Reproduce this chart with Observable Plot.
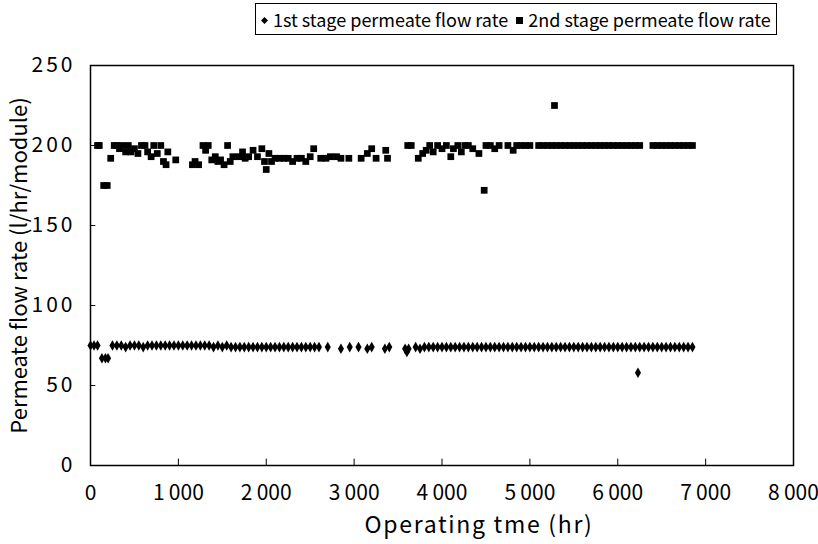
<!DOCTYPE html>
<html><head><meta charset="utf-8">
<script src="https://cdn.jsdelivr.net/npm/d3@7"></script>
<script src="https://cdn.jsdelivr.net/npm/@observablehq/plot@0.6"></script>
<style>
body{margin:0;background:#fff;font-family:"Noto Sans CJK JP","DejaVu Sans",sans-serif;}
#legend{height:40px;position:relative;}
#legend .box{position:absolute;left:255px;top:3px;border:1px solid #000;padding:0 5px;height:30px;line-height:30px;font-size:18px;white-space:nowrap;color:#000;}
#legend .sym{display:inline-block;vertical-align:middle;margin:0 5px 3px 0;}
</style></head>
<body><div id="legend"></div><div id="chart"></div>
<script>
// Series names
const seriesNames = ["1st stage permeate flow rate", "2nd stage permeate flow rate"];

// 1st stage (diamonds): operating time (hr) and flow (l/hr/module)
const stage1Time = [0,40,80,130,170,200,250,300,350,400,450,500,550,600,650,700,750,800,850,900,950,1000,1050,1100,1150,1200,1250,1300,1350,1400,1450,1500,1550,1600,1650,1700,1750,1800,1850,1900,1950,2000,2050,2100,2150,2200,2250,2300,2350,2400,2450,2500,2550,2600,2700,2850,2950,3050,3150,3200,3350,3400,3580,3600,3620,3700,3750,3800,3850,3900,3950,4000,4050,4100,4150,4200,4250,4300,4350,4400,4450,4500,4550,4600,4650,4700,4750,4800,4850,4900,4950,5000,5050,5100,5150,5200,5250,5300,5350,5400,5450,5500,5550,5600,5650,5700,5750,5800,5850,5900,5950,6000,6050,6100,6150,6200,6230,6250,6300,6350,6400,6450,6500,6550,6600,6650,6700,6750,6800,6850];
const stage1Flow = [75,75,75,67,67,67,75,75,75,74,75,75,75,74,75,75,75,75,75,75,75,75,75,75,75,75,75,75,75,74,75,74,75,74,74,74,74,74,74,74,74,74,74,74,74,74,74,74,74,74,74,74,74,74,74,73,74,74,73,74,73,74,73,71,73,74,73,74,74,74,74,74,74,74,74,74,74,74,74,74,74,74,74,74,74,74,74,74,74,74,74,74,74,74,74,74,74,74,74,74,74,74,74,74,74,74,74,74,74,74,74,74,74,74,74,74,58,74,74,74,74,74,74,74,74,74,74,74,74,74];

// 2nd stage (squares)
const stage2Time = [80,100,150,190,230,270,300,330,360,400,430,460,500,540,580,620,650,690,720,760,800,830,860,880,970,1160,1190,1230,1280,1310,1340,1380,1420,1450,1480,1520,1560,1590,1620,1690,1730,1760,1800,1850,1900,1950,1980,2000,2030,2060,2100,2150,2200,2250,2300,2350,2400,2450,2500,2540,2620,2680,2730,2800,2850,2940,3080,3150,3200,3250,3360,3380,3610,3650,3730,3780,3820,3860,3900,3950,4000,4050,4100,4130,4180,4220,4260,4300,4350,4420,4480,4500,4550,4600,4650,4750,4810,4850,4900,4950,5000,5100,5150,5200,5250,5280,5300,5350,5400,5450,5500,5550,5600,5650,5700,5750,5800,5850,5900,5950,6000,6050,6100,6150,6200,6250,6400,6450,6500,6550,6600,6650,6700,6750,6800,6850];
const stage2Flow = [200,200,175,175,192,200,200,198,200,196,200,196,198,195,200,200,196,193,200,195,200,190,188,196,191,188,190,188,200,197,200,191,193,190,191,188,200,190,193,193,196,192,193,197,193,198,190,185,195,190,192,192,192,192,190,192,192,190,193,198,192,192,193,193,192,192,192,195,198,192,197,192,200,200,192,195,197,200,196,200,198,200,193,198,200,196,200,200,198,195,172,200,200,198,200,200,197,200,200,200,200,200,200,200,200,225,200,200,200,200,200,200,200,200,200,200,200,200,200,200,200,200,200,200,200,200,200,200,200,200,200,200,200,200,200,200];

const xTicks = [0,1000,2000,3000,4000,5000,6000,7000,8000];
const yTicks = [0,50,100,150,200,250];
const xLabel = "Operating tme (hr)";
const yLabel = "Permeate flow rate (l/hr/module)";

const s1 = stage1Time.map((t,i)=>({t, v: stage1Flow[i]}));
const s2 = stage2Time.map((t,i)=>({t, v: stage2Flow[i]}));
const fmt = d => d < 1000 ? String(d) : d3.format(",")(d).replace(",", "\u2009");

const font = '"Noto Sans CJK JP","DejaVu Sans",sans-serif';
const chart = Plot.plot({
  width: 818, height: 504,
  marginLeft: 90, marginRight: 25, marginTop: 25, marginBottom: 79,
  style: {fontFamily: font, fontSize: "21px", color: "#000", background: "#fff"},
  x: {domain: [0, 8000]},
  y: {domain: [0, 250]},
  marks: [
    Plot.frame({stroke: "#000", strokeWidth: 1.5}),
    Plot.ruleX(xTicks, {y1: 0, y2: 4, stroke: "#000"}),
    Plot.ruleY(yTicks, {x1: 0, x2: 60, stroke: "#000"}),
    Plot.axisX(xTicks, {tickSize: 0, tickPadding: 20, tickFormat: fmt, fontSize: 21, label: null}),
    Plot.axisY(yTicks, {tickSize: 0, tickPadding: 15, fontSize: 21, label: null}),
    Plot.text([xLabel], {frameAnchor: "bottom", dy: 60, dx: 37, lineAnchor: "middle", fontSize: 23, fill: "#000"}),
    Plot.axisY({ticks: [], label: yLabel, labelAnchor: "center", labelArrow: "none", labelOffset: 79, fontSize: 22}),
    Plot.dot(s2, {x: "t", y: "v", symbol: "square", r: 3.8, fill: "#000"}),
    Plot.dot(s1, {x: "t", y: "v", symbol: "diamond", r: 3.2, fill: "#000"})
  ]
});
const yTickText = new Set(yTicks.map(String));
d3.select(chart).selectAll("text").each(function() {
  const s = this.textContent;
  if (s === xLabel) this.style.letterSpacing = "1.7px";
  else if (yTickText.has(s) && this.closest('[text-anchor="end"]')) this.style.letterSpacing = "3px";
});
document.getElementById("chart").appendChild(chart);

const lg = document.getElementById("legend");
lg.innerHTML = `<div class="box"><svg class="sym" width="7" height="7"><path d="M3.5 0L7 3.5L3.5 7L0 3.5Z" fill="#000"/></svg>${seriesNames[0]}&nbsp;&nbsp;<svg class="sym" width="7" height="7"><rect width="7" height="7" fill="#000"/></svg>${seriesNames[1]}</div>`;
</script>
</body></html>
